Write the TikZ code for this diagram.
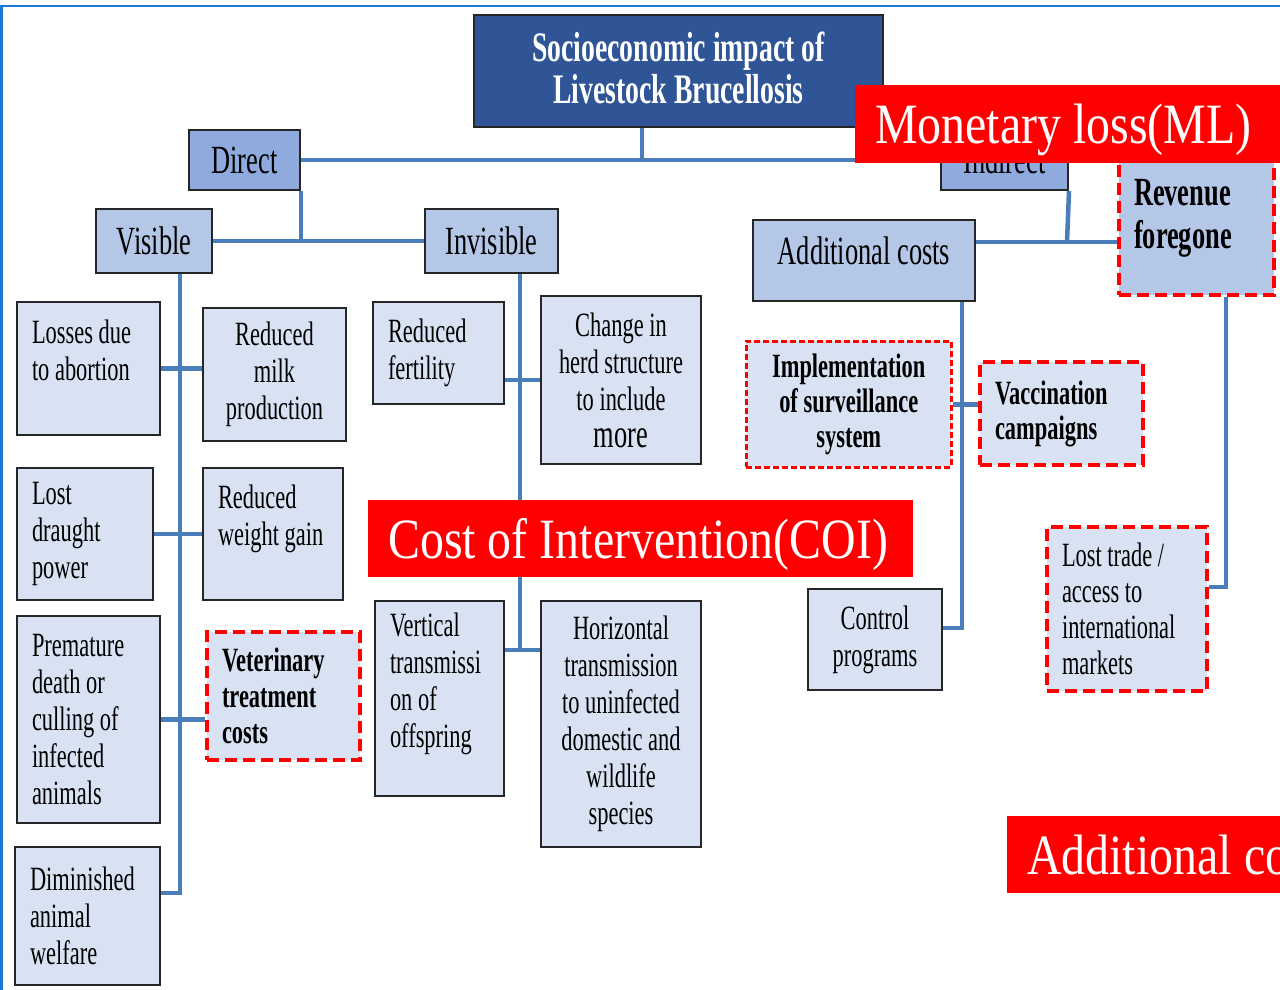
\documentclass[tikz,border=0pt]{standalone}
\usepackage{fontspec}
\setmainfont{Liberation Serif}
\newfontfamily\cellfont{Liberation Serif}[FakeStretch=0.66]
\newfontfamily\tagfont{Liberation Serif}[FakeStretch=0.84]
\usetikzlibrary{positioning}
\definecolor{leafblue}{RGB}{217,226,243}
\definecolor{headblue}{RGB}{180,199,231}
\definecolor{midblue}{RGB}{143,170,220}
\definecolor{titleblue}{RGB}{47,85,151}
\definecolor{wireblue}{RGB}{74,126,187}
\definecolor{frameblue}{RGB}{27,123,211}
\tikzset{
cell/.style={draw=black!85,line width=2pt,fill=leafblue,inner xsep=15pt,inner ysep=0pt,anchor=north west,font=\cellfont\fontsize{34}{37}\selectfont,execute at begin node={\spaceskip=0pt\xspaceskip=0pt}},
redcell/.style={cell,draw=red,line width=4pt,dash pattern=on 12pt off 6pt},
headcell/.style={cell,font=\cellfont\fontsize{40}{44}\selectfont},
wire/.style={draw=wireblue,line width=4.5pt},
tag/.style={fill=red,text=white,anchor=north west,inner xsep=20pt,inner ysep=0pt,align=left,text depth=0pt,font=\tagfont\fontsize{57}{60}\selectfont,execute at begin node={\spaceskip=0pt\xspaceskip=0pt}}
}
\begin{document}
\begin{tikzpicture}[x=1pt,y=-1pt]
\useasboundingbox (0,0) rectangle (1280,989);
\clip (0,0) rectangle (1280,989);
\fill[white] (0,0) rectangle (1280,989);
\draw[frameblue,line width=2.5pt] (1.5,1000) |- (1290,6);
\node[cell,fill=titleblue,text=white,align=center,text depth=7pt,minimum width=409pt,minimum height=112pt,font=\cellfont\bfseries\fontsize{42}{42}\selectfont] (title) at (473,14) {Socioeconomic impact of\\Livestock Brucellosis};
\foreach \nm/\x/\y/\w/\h/\f/\txt in {direct/188/129/111/60/midblue/Direct,indirect/940/129/127/60/midblue/Indirect,vis/95/208/116/64/headblue/Visible,invis/424/208/133/64/headblue/Invisible}{\node[headcell,fill=\f,minimum width=\w pt,minimum height=\h pt] (\nm) at (\x,\y) {\txt};}
\node[headcell,fill=headblue,text depth=20pt,minimum width=222pt,minimum height=81pt] (addc) at (752,219) {Additional costs};
\foreach \nm/\x/\y/\w/\h/\txt in {los/16/301/143/133/{Losses due\\to abortion\\~},drt/16/467/136/132/{Lost\\draught\\power},wgt/202/467/140/132/{Reduced\\weight gain\\~},prem/16/615/143/207/{Premature\\death or\\culling of\\infected\\animals},dim/14/846/145/138/{Diminished\\animal\\welfare},fert/372/301/131/102/{Reduced\\fertility},vert/374/600/129/195/{Vertical\\transmissi\\on of\\offspring\\~}}{\pgfmathsetmacro{\tw}{\w-30}\node[cell,align=left,text width=\tw pt,minimum height=\h pt] (\nm) at (\x,\y) {\txt};}
\foreach \nm/\x/\y/\w/\h/\txt in {milk/202/307/143/133/{Reduced\\milk\\production},chg/540/295/160/168/{Change in\\herd structure\\to include\\{\fontsize{40}{40}\selectfont more}},horz/540/600/160/246/{Horizontal\\transmission\\to uninfected\\domestic and\\wildlife\\species},ctrl/807/588/134/101/{Control\\programs}}{\node[cell,align=center,minimum width=\w pt,minimum height=\h pt] (\nm) at (\x,\y) {\txt};}
\node[redcell,align=left,text width=123pt,minimum height=128pt,font=\cellfont\bfseries\fontsize{34}{36}\selectfont] (vet) at (205,630) {Veterinary\\treatment\\costs};
\node[redcell,align=center,line width=2.5pt,dash pattern=on 6pt off 3pt,minimum width=205pt,minimum height=126pt,font=\cellfont\bfseries\fontsize{34}{35}\selectfont] (impl) at (745,340) {Implementation\\of surveillance\\system};
\node[redcell,align=left,text width=133pt,minimum height=103pt,font=\cellfont\bfseries\fontsize{34}{35}\selectfont] (vacc) at (978,360) {Vaccination\\campaigns};
\node[redcell,align=left,text width=130pt,minimum height=164pt,font=\cellfont\fontsize{34}{36}\selectfont] (ltr) at (1045,525) {Lost trade /\\access to\\international\\markets};
\node[redcell,fill=headblue,align=left,text width=125pt,minimum height=153pt,font=\cellfont\bfseries\fontsize{40}{43}\selectfont] (revf) at (1117,140) {Revenue\\foregone};
\coordinate (tj) at (642,159);
\coordinate (ij) at (1067,242);
\coordinate (vb) at (180,893);
\coordinate (vj) at (520,650);
\coordinate (aj) at (962,628);
\coordinate (rj) at (1226,587);
\draw[wire] (direct) -- (indirect);
\draw[wire] (title.south -| tj) -- (tj);
\draw[wire] (direct.south east) -- (direct.south east |- vis.east);
\draw[wire] (vis) -- (invis);
\draw[wire] (indirect.south east) -- (ij);
\draw[wire] (addc.east |- ij) -- (revf.west |- ij);
\draw[wire] (vis.south -| vb) -- (vb) -- (vb -| dim.east);
\draw[wire] (los.east) -- (los.east -| milk.west);
\draw[wire] (drt.east) -- (drt.east -| wgt.west);
\draw[wire] (prem.east) -- (prem.east -| vet.west);
\draw[wire] (invis.south -| vj) -- (vj);
\draw[wire] (chg.west -| fert.east) -- (chg.west);
\draw[wire] (vj -| vert.east) -- (vj -| horz.west);
\draw[wire] (addc.south -| aj) -- (aj) -- (aj -| ctrl.east);
\draw[wire] (impl.east) -- (impl.east -| vacc.west);
\draw[wire] (revf.south -| rj) -- (rj) -- (rj -| ltr.east);
\node[tag,text width=402pt,minimum height=78pt] (ml) at (855,85) {\mbox{Monetary loss(ML)}};
\node[tag,text width=505pt,minimum height=77pt] (coi) at (368,500) {\mbox{Cost of Intervention(COI)}};
\node[tag,text width=400pt,minimum height=77pt] (ac) at (1007,816) {\mbox{Additional costs}};
\end{tikzpicture}
\end{document}
